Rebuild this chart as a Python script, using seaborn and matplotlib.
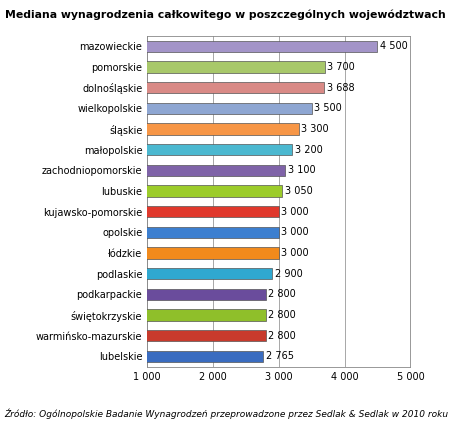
import matplotlib
matplotlib.use("Agg")
import matplotlib.pyplot as plt
import seaborn as sns
import pandas as pd

regions = ["mazowieckie","pomorskie","dolnośląskie","wielkopolskie","śląskie","małopolskie",
           "zachodniopomorskie","lubuskie","kujawsko-pomorskie","opolskie","łódzkie","podlaskie",
           "podkarpackie","świętokrzyskie","warmińsko-mazurskie","lubelskie"]
values = [4500,3700,3688,3500,3300,3200,3100,3050,3000,3000,3000,2900,2800,2800,2800,2765]
labels = ["4 500","3 700","3 688","3 500","3 300","3 200","3 100","3 050","3 000","3 000","3 000","2 900","2 800","2 800","2 800","2 765"]
colors = ["#a394c8","#a8c86a","#d98a86","#8ea6d2","#f79646","#4bb8d0","#7f63a8","#9ccc2a",
          "#e0382c","#3c7fd0","#f28a1c","#2fa8d0","#6a4c9c","#8fbf2a","#c83a2c","#3a6cc0"]
ticks = [1000,2000,3000,4000,5000]
tick_labels = ["1 000","2 000","3 000","4 000","5 000"]

df = pd.DataFrame({"region": regions, "value": values})
fig = plt.figure(figsize=(4.5,4.24), dpi=100)
ax = fig.add_axes([0.327, 0.135, 0.585, 0.78])
sns.barplot(data=df, y="region", x="value", hue="region", palette=colors, legend=False,
            orient="h", width=0.55, ax=ax, edgecolor="#555555", linewidth=0.5, zorder=3,
            saturation=1)
ax.set_xlim(1000,5000)
ax.set_xticks(ticks); ax.set_xticklabels(tick_labels, fontsize=7)
ax.tick_params(axis="y", labelsize=7, length=0)
ax.tick_params(axis="x", length=0)
ax.set_xlabel(""); ax.set_ylabel("")
ax.grid(axis="x", color="#999999", linewidth=0.6, zorder=0)
for s in ax.spines.values():
    s.set_color("#888888"); s.set_linewidth(0.6)
for i,(v,l) in enumerate(zip(values,labels)):
    ax.text(v+40, i, l, va="center", ha="left", fontsize=7, zorder=4)
fig.text(0.5, 0.965, "Mediana wynagrodzenia całkowitego w poszczególnych województwach",
         ha="center", va="center", fontsize=7.8, fontweight="bold")
fig.text(0.01, 0.025, "Źródło: Ogólnopolskie Badanie Wynagrodzeń przeprowadzone przez Sedlak & Sedlak w 2010 roku",
         ha="left", va="center", fontsize=6.5, style="italic")
fig.savefig("out.png", dpi=100)
